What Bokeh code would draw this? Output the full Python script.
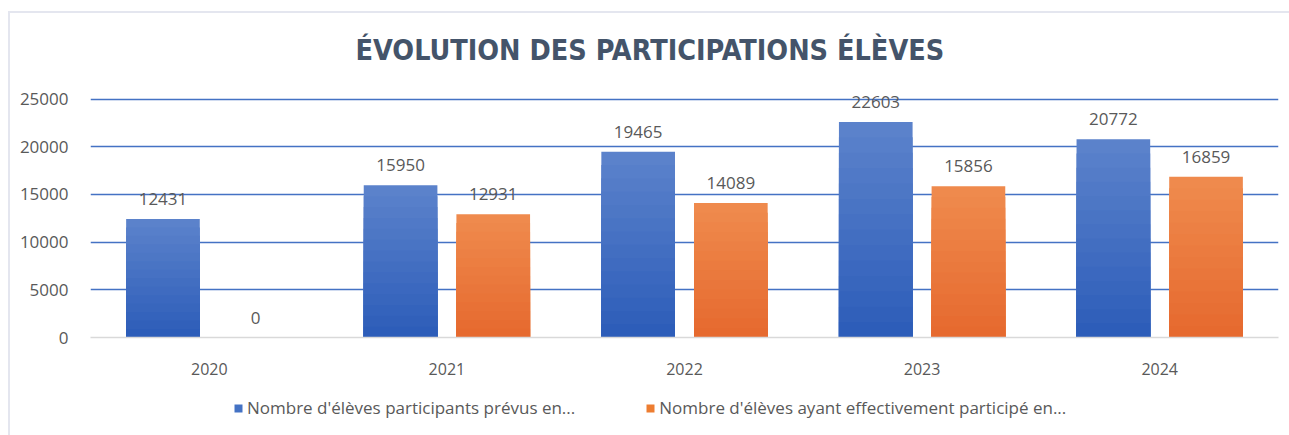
from bokeh.plotting import figure
from bokeh.layouts import column
from bokeh.models import ColumnDataSource, FixedTicker, Legend, LegendItem, Range1d, FactorRange
from bokeh.transform import dodge
from bokeh.core.properties import value
from bokeh.embed import file_html
from bokeh.resources import INLINE

years = ["2020", "2021", "2022", "2023", "2024"]
prevus = [12431, 15950, 19465, 22603, 20772]
effectifs = [0, 12931, 14089, 15856, 16859]
y_ticks = [0, 5000, 10000, 15000, 20000, 25000]
title_text = "ÉVOLUTION DES PARTICIPATIONS ÉLÈVES"
label_prevus = "Nombre d'élèves participants prévus en..."
label_effectifs = "Nombre d'élèves ayant effectivement participé en..."

FONT = "Open Sans"
GREY = "#595959"
BLUE_TOP, BLUE_BOT = "#5B82CB", "#2D5DB9"
ORANGE_TOP, ORANGE_BOT = "#EF8A4D", "#E66A2F"

src = ColumnDataSource(dict(
    years=years, prevus=prevus, effectifs=effectifs,
    prevus_lbl=[str(v) for v in prevus], effectifs_lbl=[str(v) for v in effectifs],
))

SX, SY = 10, 13  # outer frame offset (css border + margin)
W_ALL = 1289 - SX
H_MAIN = 388 - SY
H_LEG = 435 - 388

p = figure(x_range=years, y_range=Range1d(0, 26000), width=W_ALL, height=H_MAIN,
           output_backend="svg", toolbar_location=None,
           min_border_left=90 - SX, min_border_right=11, min_border_top=88 - SY,
           min_border_bottom=H_MAIN - (337 - SY))
p.outline_line_color = None

def blend(c1, c2, t):
    a = [int(c1[i:i+2], 16) for i in (1, 3, 5)]
    b = [int(c2[i:i+2], 16) for i in (1, 3, 5)]
    return "#%02x%02x%02x" % tuple(round(a[k] + (b[k] - a[k]) * t) for k in range(3))

N = 14
W = 0.31
for key, off, ctop, cbot in [("prevus", -0.195, BLUE_TOP, BLUE_BOT),
                             ("effectifs", 0.195, ORANGE_TOP, ORANGE_BOT)]:
    vals = src.data[key]
    for k in range(N):
        f = 1 - k / N
        s = ColumnDataSource(dict(years=years, top=[v * f for v in vals]))
        p.vbar(x=dodge("years", off, range=p.x_range), top="top", width=W, source=s,
               fill_color=blend(ctop, cbot, k / (N - 1)), line_color=None)
    p.text(x=dodge("years", off, range=p.x_range), y=key, text=key + "_lbl", source=src,
           text_align="center", text_baseline="middle", y_offset=-20,
           text_font=value(FONT), text_font_size="17px", text_color=GREY)

p.ygrid.ticker = FixedTicker(ticks=y_ticks[1:])
p.ygrid.grid_line_color = "#4472C4"
p.ygrid.grid_line_width = 1.6
p.xgrid.grid_line_color = None

p.yaxis.ticker = FixedTicker(ticks=y_ticks)
p.yaxis.axis_line_color = None
p.yaxis.major_tick_line_color = None
p.yaxis.minor_tick_line_color = None
p.yaxis.major_label_text_font = FONT
p.yaxis.major_label_text_font_size = "17px"
p.yaxis.major_label_text_color = GREY
p.yaxis.major_label_standoff = 16

p.xaxis.axis_line_color = "#D9D9D9"
p.xaxis.axis_line_width = 1.5
p.xaxis.major_tick_line_color = None
p.xaxis.major_label_text_font = FONT
p.xaxis.major_label_text_font_size = "16px"
p.xaxis.major_label_text_color = GREY
p.xaxis.major_label_standoff = 19

p.title.text = title_text
p.title.align = "left"
p.title.vertical_align = "top"
p.title.text_font = "DejaVu Sans Condensed"
p.title.text_font_style = "bold"
p.title.text_font_size = "28.5px"
p.title.text_color = "#44546A"
p.title.offset = 265
p.title.standoff = 41

# legend strip below the chart: same data, drawn beyond the strip's visible range
lp = figure(width=W_ALL, height=H_LEG, x_range=FactorRange(*years),
            y_range=Range1d(100000, 100001),
            output_backend="svg", toolbar_location=None,
            x_axis_location=None, y_axis_location=None,
            min_border=0, min_border_left=0, min_border_right=0,
            min_border_top=0, min_border_bottom=0)
lp.grid.grid_line_color = None
lp.outline_line_color = None
r1 = lp.vbar(x="years", top="prevus", width=0.3, source=src, fill_color="#4472C4", line_color=None)
r2 = lp.vbar(x="years", top="effectifs", width=0.3, source=src, fill_color="#ED7D31", line_color=None)
legend = Legend(items=[LegendItem(label=label_prevus, renderers=[r1]),
                       LegendItem(label=label_effectifs, renderers=[r2])],
                orientation="horizontal", location=(233 - 90, 16),
                label_text_font=FONT, label_text_font_size="17px", label_text_color=GREY,
                glyph_width=10, glyph_height=10, spacing=70, label_standoff=4,
                border_line_color=None, background_fill_alpha=0, padding=0, margin=0)
lp.add_layout(legend, "center")

layout = column(p, lp, spacing=0)
layout.styles = {"border-left": "2px solid #E4E6EF", "border-top": "2px solid #E4E6EF",
                 "margin-left": "8px", "margin-top": "11px"}

open("out.html", "w").write(file_html(layout, INLINE))
